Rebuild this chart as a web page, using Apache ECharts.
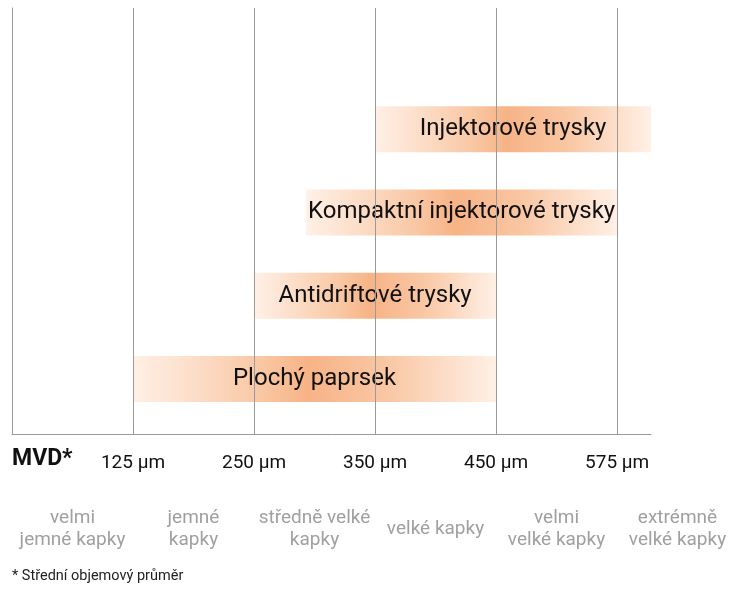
<!DOCTYPE html>
<html><head><meta charset="utf-8">
<script src="https://cdn.jsdelivr.net/npm/echarts@6/dist/echarts.min.js"></script>
<style>html,body{margin:0;padding:0;background:#fff}#c{width:739px;height:591px}</style>
</head><body><div id="c"></div>
<script>
const nozzles = ['Plochý paprsek', 'Antidriftové trysky', 'Kompaktní injektorové trysky', 'Injektorové trysky'];
const rangeStart = [1, 2, 2.43, 3];
const rangeEnd = [4, 4, 5, 5.28];
const tickPositions = [1, 2, 3, 4, 5];
const tickLabels = ['125 µm', '250 µm', '350 µm', '450 µm', '575 µm'];
const dropletClasses = ['velmi\njemné kapky', 'jemné\nkapky', 'středně velké\nkapky', 'velké kapky', 'velmi\nvelké kapky', 'extrémně\nvelké kapky'];
const axisMax = 5.28;

const FONT = "Roboto, 'Open Sans', sans-serif";
const chart = echarts.init(document.getElementById('c'), null, {renderer: 'canvas'});
const stops = [
  {offset: 0, color: '#fff0e6'},
  {offset: 0.12, color: '#fde3d1'},
  {offset: 0.35, color: '#f9c8a5'},
  {offset: 0.48, color: '#f7b386'},
  {offset: 0.7, color: '#f9c7a4'},
  {offset: 1, color: '#fff0e6'}
];
const barData = nozzles.map((n, i) => [rangeStart[i], rangeEnd[i], i]);

chart.setOption({
  animation: false,
  backgroundColor: '#fff',
  grid: [
    {left: 12, right: 88, top: 8, bottom: 157},
    {left: 12, right: 88, top: 87.5, bottom: 170.5},
    {left: 12, right: 1, top: 490, height: 10}
  ],
  xAxis: [
    {type: 'value', gridIndex: 0, min: 0, max: axisMax,
     axisLine: {show: true, lineStyle: {color: '#9a9a9a', width: 1}},
     axisTick: {show: false}, splitLine: {show: false},
     axisLabel: {show: true, margin: 29, verticalAlign: 'middle', color: '#111', fontSize: 19, fontFamily: FONT,
       showMinLabel: true, showMaxLabel: true,
       formatter: v => { const k = tickPositions.indexOf(v); return k >= 0 ? tickLabels[k] : ''; }}},
    {type: 'value', gridIndex: 1, min: 0, max: axisMax, show: false},
    {type: 'category', gridIndex: 2, data: dropletClasses, position: 'bottom',
     axisLine: {show: false}, axisTick: {show: false}, splitLine: {show: false},
     axisLabel: {interval: 0, margin: 29, verticalAlign: 'middle', color: '#a0a0a0', fontSize: 19, lineHeight: 22, fontFamily: FONT}}
  ],
  yAxis: [
    {type: 'value', gridIndex: 0, min: 0, max: 1,
     axisLine: {show: true, lineStyle: {color: '#9a9a9a', width: 1}},
     axisTick: {show: false}, axisLabel: {show: false}, splitLine: {show: false}},
    {type: 'category', gridIndex: 1, data: nozzles, show: false},
    {type: 'value', gridIndex: 2, show: false}
  ],
  series: [
    {type: 'custom', xAxisIndex: 1, yAxisIndex: 1, z: 2, data: barData,
     renderItem: (params, api) => {
       const s = api.coord([api.value(0), api.value(2)]);
       const e = api.coord([api.value(1), api.value(2)]);
       const h = 46;
       return {type: 'group', children: [
         {type: 'rect', shape: {x: s[0], y: s[1] - h / 2, width: e[0] - s[0], height: h},
          style: {fill: new echarts.graphic.LinearGradient(0, 0, 1, 0, stops)}},
         {type: 'text', z2: 10, style: {text: nozzles[params.dataIndex], x: (s[0] + e[0]) / 2, y: s[1],
          align: 'center', verticalAlign: 'middle', fontSize: 24, fontFamily: FONT, fill: '#111'}}
       ]};
     }},
    {type: 'line', xAxisIndex: 0, yAxisIndex: 0, z: 5, data: [],
     markLine: {silent: true, symbol: ['none', 'none'], label: {show: false},
       lineStyle: {color: '#9a9a9a', width: 1, type: 'solid'},
       data: tickPositions.map(v => ({xAxis: v}))}}
  ],
  graphic: [
    {type: 'text', left: 12, top: 448, style: {text: 'MVD*', fontSize: 23, fontWeight: 'bold', fontFamily: FONT, fill: '#111'}},
    {type: 'text', left: 12, top: 569, style: {text: '* Střední objemový průměr', fontSize: 14.5, fontFamily: FONT, fill: '#222'}}
  ]
});
</script>
</body></html>
